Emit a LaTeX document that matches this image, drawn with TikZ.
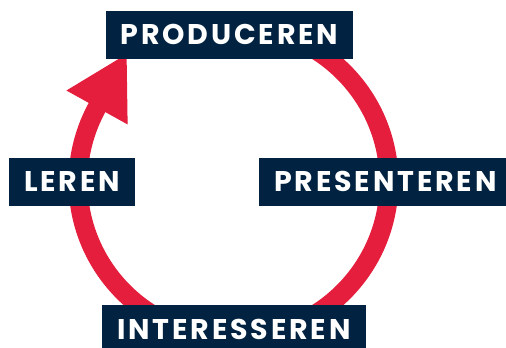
\documentclass[tikz,border=0pt]{standalone}
\usepackage{fontspec}
\setmainfont{Poppins}
\newfontfamily\lblfont[LetterSpace=10]{Poppins}
\usetikzlibrary{positioning}
\definecolor{cyclered}{RGB}{228,30,60}
\definecolor{navy}{RGB}{1,34,64}

\begin{document}
\begin{tikzpicture}[x=1pt,y=1pt,
    lbl/.style={fill=navy,text=white,font=\fontsize{28.5}{28.5}\lblfont\bfseries,
      minimum height=48pt,inner xsep=15pt,inner ysep=0pt,text height=20pt,text depth=0pt},
    ring/.style={cyclered,line width=19pt}]
        \useasboundingbox (0,0) rectangle (506,348);
        % Cycle
        \coordinate (c) at (233.5,166);
        \draw[ring] (c) ++(90:155.5)
            arc[start angle=90,end angle=-209,radius=155.5] coordinate (tail);
        \fill[cyclered,shift={(tail)},rotate=61] (-1,35) -- (60,0) -- (-1,-35) -- cycle; % arrow head
        % Labels
        \node[lbl] (prod) at (229.5,313) {PRODUCEREN};
        \node[lbl,anchor=west] (leren) at (9,166) {LEREN};
        \node[lbl,anchor=west] (pres) at (259,166) {PRESENTEREN};
        \node[lbl,anchor=north] (inter) at (234,43) {INTERESSEREN};
\end{tikzpicture}
\end{document}
